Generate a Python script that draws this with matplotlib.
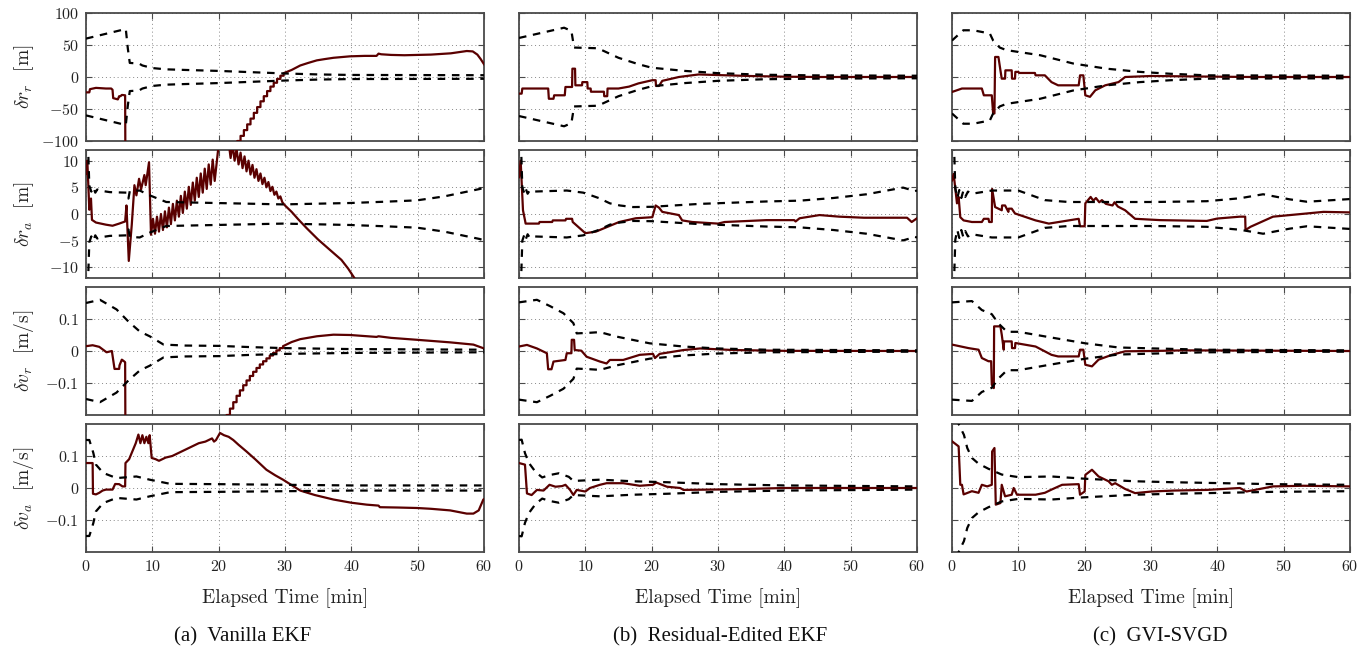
import numpy as np
import matplotlib.pyplot as plt
from matplotlib.ticker import FuncFormatter

plt.rcParams['font.family'] = 'serif'
plt.rcParams['font.serif'] = ['cmr10']
plt.rcParams['mathtext.fontset'] = 'cm'
plt.rcParams['axes.formatter.use_mathtext'] = True

# ---- data: (time [min], value) ----
# 3-sigma bounds are drawn as +/- sig, errors as the solid line

# (a) Vanilla EKF
A_RR_SIG = [(0, 60), (6.0, 75), (6.3, 45), (6.6, 22), (8, 21), (8.5, 18), (10, 14), (12, 12), (15, 11),
            (20, 9.5), (25, 7.5), (30, 5.5), (35, 4), (40, 3.2), (50, 3), (60, 2.8)]
A_RR_ERR = [(0, -24), (0.5, -24), (0.6, -19), (1.5, -17), (3.0, -18), (3.8, -18), (4.0, -20), (4.1, -33),
            (4.8, -35), (5.0, -30), (5.2, -30), (5.4, -28), (5.9, -28.6), (5.95, -160), (22.3, -160),
            (22.8, -100), (23.3, -100), (23.3, -92), (23.8, -92), (23.8, -83), (24.3, -83), (24.3, -74),
            (24.8, -74), (24.8, -65), (25.3, -65), (25.3, -56), (25.8, -56), (25.8, -47), (26.3, -47),
            (26.3, -38), (26.8, -38), (26.8, -30), (27.3, -30), (27.3, -22), (27.8, -22), (27.8, -15),
            (28.3, -15), (28.3, -9), (28.8, -9), (28.8, -3), (29.3, -3), (29.3, 2), (29.8, 2), (29.8, 6),
            (31, 11), (32.3, 18), (33.5, 22), (34.8, 26), (36, 28), (37.3, 30),
            (39.8, 32.3), (42, 33), (43.8, 33), (44.1, 36.5), (44.5, 35.5), (46, 34.5), (48, 34), (52, 35),
            (55, 37), (57.4, 40.6), (58.3, 40), (59, 35), (59.5, 28), (60, 20)]
A_RA_SIG = [(0, 13), (0.3, 13), (0.5, 5.3), (0.8, 4.2), (1.1, 5.0), (1.4, 4.0), (1.7, 4.6), (2.0, 4.4),
            (3.6, 4.1), (6.2, 4.0), (6.4, 2.9), (6.6, 4.3), (8.1, 4.4), (9.6, 3.5), (12.1, 2.25),
            (19.6, 2.06), (29.7, 1.8), (39.8, 2.06), (45, 2.3), (49.9, 2.56), (54, 3.3), (59.4, 4.7), (60, 5.0)]
A_RA_ERR = [(0, 7.5), (0.2, 10), (0.5, 0.8), (0.75, 2.9), (0.9, -1.1), (1.5, -1.6), (3.0, -2.0),
            (4.0, -2.2), (5.0, -1.8), (5.9, -1.4), (6.1, 1.6), (6.45, -8.8), (6.9, -2.0), (7.3, 5.4),
            (7.6, 3.5), (8.0, 6.6), (8.3, 4.6), (8.8, 7.3), (9.0, 5.4), (9.5, 9.7), (9.8, -3.9),
            (10.1, -0.9), (10.4, -3.7), (10.7, -0.5), (11.0, -3.3), (11.3, 0.0), (11.6, -3.0), (11.9, 0.5),
            (12.2, -2.5), (12.5, 1.2), (12.8, -1.9), (13.1, 1.9), (13.4, -1.2), (13.7, 2.5), (14.0, -0.5),
            (14.3, 3.4), (14.6, 0.2), (14.9, 4.2), (15.2, 1.0), (15.5, 5.1), (15.8, 1.7), (16.1, 5.9),
            (16.4, 2.5), (16.7, 6.8), (17.0, 3.2), (17.3, 7.6), (17.6, 4.0), (17.9, 8.5), (18.2, 4.7),
            (18.5, 9.3), (18.8, 5.5), (19.1, 10.2), (19.4, 6.2), (20.0, 13.0), (20.8, 15.5),
            (21.5, 13.5), (21.8, 10.5), (22.1, 13.0), (22.4, 10.0), (22.7, 12.2), (23.0, 9.3), (23.3, 11.5),
            (23.6, 8.6), (23.9, 10.8), (24.2, 8.0), (24.5, 10.0), (24.8, 7.4), (25.1, 9.2), (25.4, 6.8),
            (25.7, 8.4), (26.0, 6.2), (26.3, 7.6), (26.6, 5.6), (26.9, 6.8), (27.2, 5.0), (27.5, 6.0),
            (27.8, 4.3), (28.1, 5.1), (28.4, 3.6), (28.7, 4.2), (29.0, 2.9), (29.3, 3.3), (29.6, 2.2),
            (30.0, 1.6), (31, 0.4), (32, -1.0), (33.3, -2.7), (35, -4.8), (37.3, -7.3), (38.5, -8.6),
            (39.5, -10.2), (40.3, -11.7), (41, -13)]
A_VR_SIG = [(0, 0.15), (2.1, 0.16), (4.6, 0.13), (6.4, 0.092), (8.1, 0.061), (9.6, 0.046), (11.7, 0.02),
            (15, 0.017), (20, 0.016), (25, 0.012), (30, 0.009), (40, 0.006), (50, 0.005), (60, 0.004)]
A_VR_ERR = [(0, 0.015), (1, 0.018), (2, 0.013), (3.1, -0.004), (3.9, 0), (4.3, -0.056), (5.0, -0.056),
            (5.05, -0.045), (5.4, -0.027), (5.6, -0.03), (5.9, -0.035), (5.95, -0.3), (21.0, -0.3),
            (21.2, -0.2), (21.7, -0.2), (21.7, -0.18), (22.2, -0.18), (22.2, -0.16), (22.7, -0.16),
            (22.7, -0.14), (23.2, -0.14), (23.2, -0.123), (23.7, -0.123), (23.7, -0.107), (24.2, -0.107),
            (24.2, -0.092), (24.7, -0.092), (24.7, -0.078), (25.2, -0.078), (25.2, -0.065), (25.7, -0.065),
            (25.7, -0.053), (26.2, -0.053), (26.2, -0.042), (26.7, -0.042), (26.7, -0.032), (27.2, -0.032),
            (27.2, -0.023), (27.7, -0.023), (27.7, -0.014), (28.2, -0.014), (28.2, -0.006), (28.7, -0.006),
            (28.7, 0.002), (29.2, 0.002), (29.2, 0.009), (29.7, 0.009), (29.7, 0.015),
            (31, 0.028), (32.3, 0.037), (34.8, 0.046), (37.3, 0.051),
            (39.8, 0.05), (43.8, 0.044), (44.1, 0.046), (46, 0.041), (49.9, 0.035), (54.9, 0.027),
            (58.4, 0.02), (60, 0.008)]
A_VA_SIG = [(0, 0.15), (0.5, 0.15), (1.1, 0.11), (1.5, 0.073), (2.6, 0.047), (4.6, 0.031), (7.6, 0.036),
            (9.6, 0.026), (12.7, 0.013), (20, 0.012), (30, 0.01), (40, 0.008), (60, 0.008)]
A_VA_ERR = [(0, 0.078), (1.0, 0.078), (1.05, -0.018), (1.5, -0.02), (2.0, -0.015), (2.5, -0.008),
            (3.0, -0.005), (4.0, -0.005), (4.4, 0.0125), (5.0, 0.012), (5.5, 0.005), (5.9, 0.005),
            (5.95, 0.078), (6.5, 0.09), (7.2, 0.125), (7.5, 0.14), (7.9, 0.167), (8.2, 0.14), (8.5, 0.165),
            (8.8, 0.14), (9.1, 0.16), (9.4, 0.14), (9.6, 0.165), (9.9, 0.094), (10.5, 0.09), (11, 0.085),
            (12, 0.095), (13, 0.1), (14, 0.11), (15, 0.12), (16, 0.13), (17, 0.14), (18, 0.145), (19, 0.155),
            (19.3, 0.145), (19.6, 0.15), (20.2, 0.172), (20.8, 0.165), (21.5, 0.16), (22.2, 0.15),
            (23, 0.135), (24.2, 0.114), (25.5, 0.09), (27.2, 0.057), (28.5, 0.04), (29.7, 0.026),
            (31, 0.009), (32.3, -0.008), (34.5, -0.022), (37.3, -0.036), (40, -0.046), (42.3, -0.052),
            (44.1, -0.055), (44.3, -0.06), (47, -0.061), (49.9, -0.0625), (52, -0.065), (54.9, -0.07),
            (57.4, -0.08), (58.4, -0.08), (59.2, -0.07), (59.9, -0.036), (60, -0.035)]

# (b) Residual-Edited EKF
B_RR_SIG = [(0, 61), (6.8, 77), (7.9, 72), (8.3, 46), (11.6, 45), (12.5, 42), (15, 30), (18, 20),
            (20, 14.5), (25, 9.5), (30, 6), (37, 3.5), (45, 2.5), (60, 2)]
B_RR_ERR = [(0, -26), (0.4, -26), (0.5, -18), (4.4, -18), (4.5, -34), (5.2, -34), (5.3, -28.6),
            (6.9, -28.6), (7.0, -15.6), (8.0, -15.6), (8.05, 13), (8.45, 13), (8.5, -13), (9.5, -13),
            (9.55, -8), (10.3, -8), (10.35, -18), (10.8, -18), (10.85, -23), (12.8, -23), (12.85, -30),
            (13.3, -30), (13.35, -18), (15, -18), (16.6, -15), (18, -10), (20.1, -5), (20.6, -5),
            (20.65, -14), (21.1, -14), (21.6, -6), (24.1, 0), (27.1, 4), (30.1, 3), (35, 1.5), (40, 0.5),
            (45, 0), (60, 0)]
B_RA_SIG = [(0, 13), (0.3, 13), (0.5, 5.0), (0.8, 3.9), (1.0, 4.8), (1.3, 3.8), (1.6, 4.4), (2.0, 4.2),
            (7.2, 4.4), (9.7, 4.0), (12, 3.0), (13.7, 2.0), (15.2, 1.6), (17.2, 1.3), (20, 1.35),
            (27.3, 1.9), (37.3, 2.35), (42.3, 2.5), (47.4, 3.0), (52.4, 3.7), (57.9, 4.95), (59.7, 4.3),
            (60, 4.4)]
B_RA_ERR = [(0, 6.9), (0.25, 10), (0.6, 0.7), (0.9, -1.15), (1.0, -1.8), (3.0, -1.8), (3.1, -1.5),
            (5.0, -1.5), (5.1, -1.2), (7.0, -1.2), (7.1, -0.9), (8.0, -0.9), (8.1, -1.5), (10.0, -3.6),
            (11.6, -3.3), (15.1, -1.5), (17.6, -0.8), (20.1, -0.6), (20.6, 1.6), (21.1, 1.2), (21.6, 0.4),
            (24.1, -0.2), (24.6, -1.2), (26.1, -1.5), (30, -1.8), (31, -1.5), (37.3, -1.15), (41.5, -1.15),
            (41.7, -1.4), (42.3, -0.8), (45.3, -0.2), (48.3, -0.5), (52, -0.7), (58.5, -0.7), (59.2, -1.5),
            (60, -0.8)]
B_VR_SIG = [(0, 0.152), (2.7, 0.16), (4.7, 0.14), (6.7, 0.118), (8.2, 0.087), (8.7, 0.055), (10.7, 0.057),
            (12.2, 0.059), (14.7, 0.045), (19.7, 0.024), (24.8, 0.014), (29.8, 0.008), (37.3, 0.004),
            (60, 0.002)]
B_VR_ERR = [(0, 0.014), (1.2, 0.019), (2.7, 0.008), (3.7, -0.002), (4.2, -0.007), (4.4, -0.057),
            (4.9, -0.057), (5.2, -0.033), (7.0, -0.028), (7.2, -0.007), (7.9, -0.007), (7.95, 0.035),
            (8.3, 0.035), (8.4, 0.003), (9.4, 0.001), (10.2, -0.018), (12.2, -0.033), (13.2, -0.039),
            (13.7, -0.028), (15.7, -0.028), (18.2, -0.012), (20.2, -0.009), (20.5, -0.022), (21.2, -0.009),
            (24.8, 0.003), (27.3, 0.008), (32.3, 0.003), (40, 0.0005), (60, 0)]
B_VA_SIG = [(0, 0.15), (0.4, 0.151), (0.9, 0.109), (1.5, 0.078), (2.5, 0.05), (3.5, 0.033), (4.5, 0.04),
            (6.0, 0.046), (7.5, 0.035), (8.2, 0.022), (12.2, 0.026), (17.2, 0.021), (22.3, 0.018),
            (30, 0.012), (40, 0.008), (60, 0.005)]
B_VA_ERR = [(0, 0.078), (0.9, 0.073), (1.2, -0.017), (1.9, -0.022), (2.7, -0.006), (3.7, -0.008),
            (4.6, 0.01), (5.5, 0.004), (6.5, 0.006), (7.0, 0.01), (7.7, -0.006), (8.2, -0.022), (8.7, -0.006),
            (10.0, -0.011), (10.7, 0), (12.2, 0.01), (13.2, 0.015), (15.7, 0.015), (18.2, 0.007),
            (20.2, 0.01), (20.7, 0.017), (22.3, 0.004), (24.3, 0), (24.8, -0.006), (32.3, -0.004), (40, 0),
            (60, 0)]

# (c) GVI-SVGD
C_RR_SIG = [(0, 57), (1.7, 73), (3.2, 73), (5.7, 68), (6.2, 57), (7.2, 46), (8.2, 42), (13.3, 34),
            (18.3, 21), (23.3, 13), (28.3, 8), (33, 5), (38.4, 2.6), (60, 2)]
C_RR_ERR = [(0, -23.4), (1.5, -18), (4.5, -18), (4.8, -28.6), (6.0, -28.6), (6.2, -57), (6.4, -57),
            (6.5, 31.3), (7.0, 31.3), (7.3, 10.4), (7.5, -2.6), (8.0, -2.6), (8.05, 10.4), (9.0, 10.4),
            (9.05, -2.6), (9.5, -2.6), (9.55, 8), (10, 8), (10.1, 6.3), (12.5, 6.3), (12.6, 2.6), (14, 2.6),
            (15, -8), (16, -13), (19.1, -13), (19.3, 2.6), (19.8, 2.6), (20.1, -28.6), (20.8, -31),
            (21.6, -20.8), (23.1, -13), (25.1, -8), (26.1, 0), (30.1, 1.6), (35, 1), (40, 0.5), (45, 0),
            (60, 0)]
C_RA_SIG = [(0, 13), (0.3, 13), (0.5, 4.8), (0.8, 3.0), (1.1, 4.5), (1.4, 3.0), (1.7, 4.3), (2.0, 3.2),
            (2.4, 4.2), (3.0, 3.8), (6.0, 4.4), (10, 4.4), (14, 2.6), (17.6, 2.25), (30.4, 2.25),
            (38.4, 2.4), (43.4, 2.95), (46.9, 3.7), (50.9, 2.75), (53.5, 2.3), (60, 2.8)]
C_RA_ERR = [(0, 6.3), (0.25, 7.5), (0.75, 2.0), (1.0, 3.2), (1.25, -0.6), (1.75, -1.2), (3.0, -1.5),
            (4.5, -1.5), (4.8, -0.9), (5.5, -0.9), (5.6, -1.5), (6.0, -1.5), (6.05, 4.7), (6.5, 1.3),
            (7.5, 0.7), (7.55, 1.6), (8.0, 1.6), (8.5, 0.4), (8.55, 1.0), (9.0, 1.0), (9.5, 0.1),
            (12.6, -1.2), (14.6, -1.8), (19.1, -0.9), (19.3, -2.3), (20.0, -2.3), (20.1, 2.0), (20.9, 3.2),
            (21.3, 2.5), (21.7, 3.0), (22.2, 2.2), (22.6, 2.6), (23.2, 1.9), (24.2, 1.6), (24.5, 2.2),
            (25.0, 1.4), (26.1, 0.7), (27.6, -0.9), (31.4, -1.15), (38.4, -1.3), (40, -0.85), (43.4, -0.5),
            (44.2, -0.5), (44.25, -3.0), (45, -2.4), (48.4, -0.5), (53.5, 0.1), (56, 0.4), (60, 0.3)]
C_VR_SIG = [(0, 0.152), (3, 0.156), (4.5, 0.128), (6.0, 0.115), (7.0, 0.086), (8.3, 0.06), (10, 0.06),
            (15, 0.042), (20.1, 0.024), (25.1, 0.011), (30.4, 0.008), (38.4, 0.004), (60, 0.002)]
C_VR_ERR = [(0, 0.02), (2.5, 0.009), (4.0, 0.004), (4.5, -0.022), (5.0, -0.027), (5.5, -0.032),
            (5.9, -0.032), (6.0, -0.105), (6.3, -0.116), (6.35, 0.077), (7.3, 0.077), (7.5, 0.051),
            (7.8, 0.004), (7.85, 0.03), (9.0, 0.03), (9.05, 0.009), (9.5, 0.009), (9.55, 0.025),
            (12.6, 0.014), (15, -0.012), (16, -0.017), (19.1, -0.017), (19.3, 0.004), (19.8, 0.004),
            (20.1, -0.043), (21.1, -0.048), (22.1, -0.027), (24.1, -0.012), (26.1, -0.001), (30, 0),
            (35, 0.002), (60, 0)]
C_VA_SIG = [(0, 0.26), (1.0, 0.2), (1.8, 0.166), (2.3, 0.125), (3.0, 0.094), (4.0, 0.076), (5.5, 0.06),
            (7.5, 0.042), (10, 0.034), (15, 0.036), (20, 0.029), (27.6, 0.021), (33.4, 0.018), (48.4, 0.012),
            (60, 0.01)]
C_VA_ERR = [(0, 0.146), (1.0, 0.13), (1.25, 0.01), (1.5, 0.01), (1.75, -0.02), (3.0, -0.01), (4.0, -0.015),
            (4.5, 0.01), (5.3, 0.005), (6.0, 0.01), (6.05, 0.114), (6.4, 0.125), (6.6, -0.052), (7.3, -0.047),
            (7.5, 0.01), (8.0, -0.026), (9.0, -0.021), (9.3, 0.0), (9.8, -0.021), (12.6, -0.021),
            (14.0, -0.015), (15, -0.005), (16.6, 0.01), (19.1, 0.012), (19.3, -0.021), (20.0, -0.011),
            (20.1, 0.041), (21.1, 0.057), (22.1, 0.036), (23.6, 0.021), (24.1, 0.01), (24.6, 0.015),
            (26.1, -0.003), (27.6, -0.016), (30.1, -0.011), (33.4, -0.008), (38.4, -0.006), (43.4, 0.0),
            (44.4, -0.011), (48.4, 0.005), (53, 0.007), (60, 0.005)]

PANELS = [
    [(A_RR_SIG, A_RR_ERR), (A_RA_SIG, A_RA_ERR), (A_VR_SIG, A_VR_ERR), (A_VA_SIG, A_VA_ERR)],
    [(B_RR_SIG, B_RR_ERR), (B_RA_SIG, B_RA_ERR), (B_VR_SIG, B_VR_ERR), (B_VA_SIG, B_VA_ERR)],
    [(C_RR_SIG, C_RR_ERR), (C_RA_SIG, C_RA_ERR), (C_VR_SIG, C_VR_ERR), (C_VA_SIG, C_VA_ERR)],
]
ROW_LABELS = [r'$\delta r_r$  [m]', r'$\delta r_a$  [m]', r'$\delta v_r$  [m/s]', r'$\delta v_a$  [m/s]']
ROW_YLIM = [(-100, 100), (-12, 12), (-0.2, 0.2), (-0.2, 0.2)]
ROW_YTICKS = [[-100, -50, 0, 50, 100], [-10, -5, 0, 5, 10], [-0.1, 0, 0.1], [-0.1, 0, 0.1]]
X_TICKS = [0, 10, 20, 30, 40, 50, 60]
CAPTIONS = ['(a)  Vanilla EKF', '(b)  Residual-Edited EKF', '(c)  GVI-SVGD']

# ---- layout (pixels) ----
W, H = 1371, 656
LEFTS = [86, 519, 952]
TOPS = [13, 150, 287, 424]
AW, AH = 398, 128
CAP_X = [243, 720, 1160]
CAP_Y = 637

ERR_COLOR = '#5a0000'
FRAME = '#4a4a4a'

fig = plt.figure(figsize=(W / 100, H / 100), dpi=100)
fmt = FuncFormatter(lambda v, _: '$%g$' % v)

for c in range(3):
    for r in range(4):
        ax = fig.add_axes([LEFTS[c] / W, 1 - (TOPS[r] + AH) / H, AW / W, AH / H])
        sig, err = PANELS[c][r]
        sig = np.array(sig, dtype=float)
        err = np.array(err, dtype=float)
        ax.plot(err[:, 0], err[:, 1], color=ERR_COLOR, lw=1.6, zorder=3)
        for sgn in (1, -1):
            ax.plot(sig[:, 0], sgn * sig[:, 1], color='k', lw=1.6, ls=(0, (3.4, 3)), zorder=4)

        ax.set_xlim(0, 60)
        ax.set_ylim(*ROW_YLIM[r])
        ax.set_xticks(X_TICKS)
        ax.set_yticks(ROW_YTICKS[r])
        ax.yaxis.set_major_formatter(fmt)
        ax.xaxis.set_major_formatter(fmt)
        ax.grid(True, ls=(0, (1, 3)), lw=0.7, color='#888888')
        ax.tick_params(direction='in', top=True, right=True, length=4, width=0.8, pad=5,
                       color=FRAME, labelsize=11.5, labelcolor='#222222')
        for sp in ax.spines.values():
            sp.set_color(FRAME)
            sp.set_linewidth(1.3)
        if c == 0:
            ax.set_ylabel(ROW_LABELS[r], fontsize=14, color='#222222')
            ax.yaxis.set_label_coords(-0.125, 0.5)
        else:
            ax.tick_params(labelleft=False)
        if r == 3:
            ax.set_xlabel('Elapsed Time [min]', fontsize=14, color='#222222')
            ax.xaxis.set_label_coords(0.5, -0.285)
        else:
            ax.tick_params(labelbottom=False)

for c in range(3):
    fig.text(CAP_X[c] / W, 1 - CAP_Y / H, CAPTIONS[c], family='Liberation Serif', fontsize=15,
             ha='center', va='center', color='#111111')

fig.savefig('out.png', dpi=100)
